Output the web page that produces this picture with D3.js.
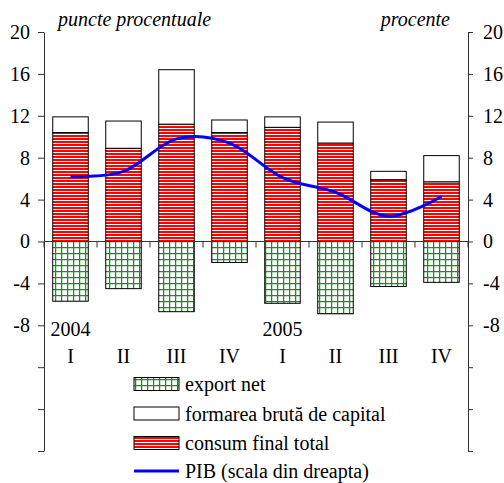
<!doctype html>
<html>
  <head>
    <meta charset="UTF-8">
    <title>PIB</title>
    <script src="https://d3js.org/d3.v7.min.js"></script>
    <style>
      body { margin: 0; background: #fff; }
      .axis line, .axis path { stroke: #333; }
    </style>
  </head>
  <body>
    <svg id="chart" width="504" height="483"></svg>
    <script>
      // Data
      const quarters = ["I", "II", "III", "IV", "I", "II", "III", "IV"];
      const years = ["2004", "", "", "", "2005", "", "", ""];
      const consum = [10.4, 8.9, 11.2, 10.4, 10.9, 9.4, 5.9, 5.7];
      const capital = [1.5, 2.6, 5.2, 1.2, 1.0, 2.0, 0.8, 2.5];
      const exportNet = [-5.7, -4.5, -6.7, -2.0, -5.9, -6.9, -4.3, -3.9];
      const pib = [6.2, 6.7, 9.8, 9.4, 6.1, 4.7, 2.4, 4.3];
      const yTicks = [20, 16, 12, 8, 4, 0, -4, -8, -12, -16, -20];
      const yLabels = [20, 16, 12, 8, 4, 0, -4, -8];

      const svg = d3.select("#chart");
      const plotLeft = 44, plotRight = 468, plotTop = 32, plotBottom = 451;
      const idx = d3.range(quarters.length);

      const x = d3.scaleBand().domain(idx).range([plotLeft, plotRight])
        .paddingInner(0.33).paddingOuter(0.165);
      const y = d3.scaleLinear().domain([-20, 20]).range([plotBottom, plotTop]);

      // patterns
      const defs = svg.append("defs");
      const stripes = defs.append("pattern").attr("id", "stripes")
        .attr("patternUnits", "userSpaceOnUse").attr("width", 6).attr("height", 3);
      stripes.append("rect").attr("width", 6).attr("height", 3).attr("fill", "#fff");
      stripes.append("rect").attr("width", 6).attr("height", 2).attr("fill", "#ff0000");

      const grid = defs.append("pattern").attr("id", "grid")
        .attr("patternUnits", "userSpaceOnUse").attr("width", 6).attr("height", 6)
        .attr("x", 1).attr("y", 1);
      grid.append("rect").attr("width", 6).attr("height", 6).attr("fill", "#fff");
      grid.append("path").attr("d", "M0,0.6H6M0.6,0V6")
        .attr("stroke", "#1a8f1a").attr("stroke-width", 1.3).attr("fill", "none");

      // bars
      const bars = svg.append("g");
      bars.selectAll(".cons").data(idx).join("rect")
        .attr("x", i => x(i)).attr("width", x.bandwidth())
        .attr("y", i => y(consum[i])).attr("height", i => y(0) - y(consum[i]))
        .attr("fill", "url(#stripes)").attr("stroke", "#000");
      bars.selectAll(".cap").data(idx).join("rect")
        .attr("x", i => x(i)).attr("width", x.bandwidth())
        .attr("y", i => y(consum[i] + capital[i]))
        .attr("height", i => y(consum[i]) - y(consum[i] + capital[i]))
        .attr("fill", "#fff").attr("stroke", "#000");
      bars.selectAll(".exp").data(idx).join("rect")
        .attr("x", i => x(i)).attr("width", x.bandwidth())
        .attr("y", y(0)).attr("height", i => y(exportNet[i]) - y(0))
        .attr("fill", "url(#grid)").attr("stroke", "#000");

      // axes
      const fmt = d => yLabels.includes(d) ? d : "";
      svg.append("g").attr("class", "axis").attr("transform", `translate(${plotLeft},0)`)
        .call(d3.axisLeft(y).tickValues(yTicks).tickFormat(fmt).tickSize(6).tickSizeOuter(0).tickPadding(8));
      svg.append("g").attr("class", "axis").attr("transform", `translate(${plotRight},0)`)
        .call(d3.axisRight(y).tickValues(yTicks).tickFormat(fmt).tickSize(5).tickSizeOuter(0).tickPadding(10));

      // zero line with category boundary ticks
      const zx = svg.append("g").attr("class", "axis");
      zx.append("line").attr("x1", plotLeft).attr("x2", plotRight).attr("y1", y(0)).attr("y2", y(0));
      zx.selectAll(".bt").data(d3.range(quarters.length + 1)).join("line")
        .attr("x1", i => plotLeft + i * x.step()).attr("x2", i => plotLeft + i * x.step())
        .attr("y1", y(0)).attr("y2", y(0) + 6);

      // category labels
      svg.append("g").selectAll("text").data(idx).join("text")
        .attr("x", i => x(i) + x.bandwidth() / 2).attr("y", 363)
        .attr("text-anchor", "middle").text(i => quarters[i]);
      svg.append("g").selectAll("text").data(idx.filter(i => years[i])).join("text")
        .attr("x", i => x(i) + x.bandwidth() / 2).attr("y", 336)
        .attr("text-anchor", "middle").text(i => years[i]);

      // PIB line
      const line = d3.line()
        .x(i => x(i) + x.bandwidth() / 2).y(i => y(pib[i]))
        .curve(d3.curveCatmullRom.alpha(0));
      svg.append("path").datum(idx).attr("d", line)
        .attr("fill", "none").attr("stroke", "#0000ff").attr("stroke-width", 3);

      // unit titles
      svg.append("text").attr("x", 58).attr("y", 26).attr("font-style", "italic").text("puncte procentuale");
      svg.append("text").attr("x", 450).attr("y", 26).attr("font-style", "italic")
        .attr("text-anchor", "end").text("procente");

      // legend
      const legendItems = [
        { name: "export net", fill: "url(#grid)" },
        { name: "formarea brută de capital", fill: "#fff" },
        { name: "consum final total", fill: "url(#stripes)" },
        { name: "PIB (scala din dreapta)", line: true }
      ];
      const lg = svg.append("g");
      const rowY = [384, 413.5, 443, 471];
      legendItems.forEach((d, i) => {
        const g = lg.append("g").attr("transform", `translate(134,${rowY[i]})`);
        if (d.line) {
          g.append("line").attr("x1", 0).attr("x2", 45).attr("stroke", "#0000ff").attr("stroke-width", 3);
        } else {
          g.append("rect").attr("x", 0).attr("y", -6.5).attr("width", 45).attr("height", 13)
            .attr("fill", d.fill).attr("stroke", "#000");
        }
        g.append("text").attr("x", 51).attr("y", 7).text(d.name);
      });

      // one serif face for every text
      svg.selectAll("text")
        .style("font-family", "'Liberation Serif', 'Times New Roman', serif")
        .style("font-size", "20px")
        .style("fill", "#000");
    </script>
  </body>
</html>
